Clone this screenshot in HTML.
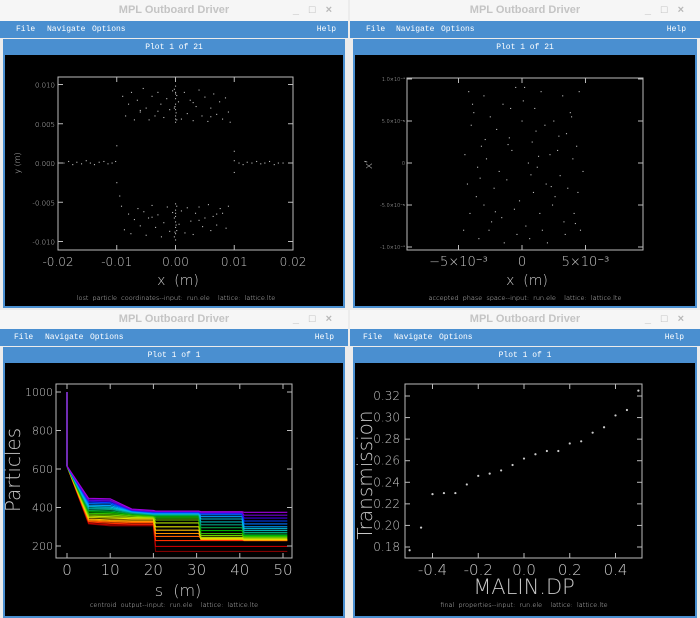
<!DOCTYPE html>
<html><head><meta charset="utf-8"><style>
html,body{margin:0;padding:0;width:700px;height:618px;overflow:hidden;background:#ececec;font-family:"Liberation Sans",sans-serif}
.win{position:absolute;background:#ececec}
.title{position:absolute;left:0;right:0;top:0;height:21px;background:#f6f6f6;color:#c4c4c4;font:bold 11px "Liberation Sans",sans-serif;text-align:center;line-height:21px}
.btns{position:absolute;right:6px;top:0;font-size:11px;color:#b8b8b8;letter-spacing:10px}
.menu{position:absolute;left:0;right:0;top:21px;height:17px;background:#4a8fd0;color:#fff;font:8px "Liberation Mono",monospace;line-height:17px}
.menu span{position:absolute}
.frame{position:absolute;left:3px;right:3px;top:39px;bottom:0;background:#4a8fd0}
.ph{position:absolute;left:0;right:0;top:2px;height:14px;color:#fff;font:8px "Liberation Mono",monospace;text-align:center;line-height:14px}
.blk{position:absolute;left:2px;right:2px;top:16px;bottom:2px;background:#000}
svg{position:absolute;left:0;top:0}
svg text{white-space:pre}
</style></head><body>
<div class="win" style="left:0;top:0;width:348px;height:308px">
 <div class="title">MPL Outboard Driver<span class="btns">_□×</span></div>
 <div class="menu"><span style="left:16px">File</span><span style="left:47px">Navigate</span><span style="left:92px">Options</span><span style="right:12px">Help</span></div>
 <div class="frame"><div class="ph">Plot 1 of 21</div><div class="blk"></div></div>
</div>
<div class="win" style="left:350px;top:0;width:350px;height:308px">
 <div class="title">MPL Outboard Driver<span class="btns">_□×</span></div>
 <div class="menu"><span style="left:16px">File</span><span style="left:46px">Navigate</span><span style="left:91px">Options</span><span style="right:14px">Help</span></div>
 <div class="frame"><div class="ph">Plot 1 of 21</div><div class="blk"></div></div>
</div>
<div class="win" style="left:0;top:310px;width:348px;height:308px">
 <div class="title" style="height:19px;line-height:19px">MPL Outboard Driver<span class="btns">_□×</span></div>
 <div class="menu" style="top:19px"><span style="left:14px">File</span><span style="left:45px">Navigate</span><span style="left:90px">Options</span><span style="right:14px">Help</span></div>
 <div class="frame" style="top:37px"><div class="ph">Plot 1 of 1</div><div class="blk"></div></div>
</div>
<div class="win" style="left:350px;top:310px;width:350px;height:308px">
 <div class="title" style="height:19px;line-height:19px">MPL Outboard Driver<span class="btns">_□×</span></div>
 <div class="menu" style="top:19px"><span style="left:13px">File</span><span style="left:44px">Navigate</span><span style="left:89px">Options</span><span style="right:16px">Help</span></div>
 <div class="frame" style="top:37px"><div class="ph">Plot 1 of 1</div><div class="blk"></div></div>
</div>
<svg id="s" width="700" height="618"></svg>
<script>
// ---- top-left: lost particle coordinates (mm)
const lostUpperX=[-9,-8.5,-8,-7.5,-7,-6.5,-6,-5.5,-5,-4.5,-4,-3.5,-3,-2.5,-2,-1.5,-1,-0.5,0,0,0,0,0,0,0,0.2,-0.2,0.2,-0.2,0.5,1,1.5,2,2.5,3,3.5,4,4.5,5,5.5,6,6.5,7,7.5,8,8.5,9,9.3,0,0,0.1,-0.1,-3,3,6,-6];
const lostUpperY=[8.5,6,7.5,9,5.5,8,6.5,9.5,7,5.5,8.5,6,9,7.5,5.8,8.2,6.8,9.2,5.2,6,6.8,7.5,8.2,9,9.8,5.5,7,8.6,9.4,7.8,5.6,9,6.3,8,5.4,7.2,9.3,6,8.4,5.3,7,8.8,6.2,7.8,5.6,8.3,6.5,5.2,5.6,8.8,6.4,7.2,6.6,7.7,5.9,6.7];
const lostLowerX=[-9.2,-8.7,-8,-7.6,-7,-6.4,-6,-5.4,-5,-4.6,-4,-3.4,-3,-2.4,-2,-1.4,-1,-0.5,0,0,0,0,0,0,0,0.2,-0.2,0.2,-0.2,0.6,1,1.6,2,2.6,3,3.4,4,4.6,5,5.6,6,6.4,7,7.6,8,8.6,9,-9.5,0,0.1,-0.1,-4,4,7];
const lostLowerY=[-5.5,-8.5,-6.5,-9,-7.2,-5.8,-8,-6.2,-9.2,-7,-5.4,-8.2,-6.6,-9.4,-7.6,-5.6,-8.7,-6.3,-5.2,-6,-6.8,-7.5,-8.2,-9,-9.8,-5.5,-7,-8.6,-9.4,-7.8,-6.1,-8.9,-5.7,-7.4,-9.1,-6.4,-5.6,-8.1,-7,-5.3,-8.6,-6.8,-7.9,-5.8,-6.4,-8.3,-5.5,-4.2,-6.4,-7.9,-8.8,-6.9,-7.3,-6.5];
const lostSideX=[-19,-18.2,-17.5,-16.8,-16,-15.2,-14.5,-13.8,-13,-12.2,-11.5,-10.8,-10.2,-10,-10,10,10.8,11.5,12.2,13,13.8,14.5,15.2,16,16.8,17.5,18.3,10,10];
const lostSideY=[0,0.2,-0.2,0.1,-0.1,0.3,0,-0.2,0.1,0.2,-0.1,0,0.2,2.2,-2.5,0.3,0,-0.2,0.1,0,0.2,-0.1,0,0.2,-0.2,0,0,-1.2,1.5];
// ---- top-right: accepted phase space (x in mm, x' in 1e-5)
const accX=[-4.2,-3.8,-3,-2.5,-1.5,-0.5,0.2,1,1.5,2.5,3.2,3.8,4.5,-4,-3.2,-2,-1,0,0.8,1.8,2.8,3.5,4.3,-4.5,-3.5,-2.8,-1.8,-0.8,0.5,1.2,2.2,3,4,4.8,-4.3,-3.6,-2.2,-1.2,-0.2,0.9,1.9,2.6,3.6,4.4,-4.1,-3,-2.4,-1.6,-0.6,0.3,1.4,2.4,3.3,4.1,-4.6,-3.4,-2.6,-1.4,-0.4,0.6,1.6,2,3.4,4.6,-3.9,-2.9,-0.9,1.1,2.9,3.9,-3.3,-1.1,0.1,1.3,2.3,4.2,-2.1,0.7];
const accX2=[8.5,6,8,5.5,7,9,9,6.5,8.5,5,8,6,8.5,4.5,2,4,3,5,2.5,4.5,1.5,3.5,2,1,-0.5,0.5,-1,1.5,0,-0.5,1,-1.5,0.5,-1,-2.5,-4,-3,-2,-4.5,-3.5,-2.5,-4,-3,-3.5,-6,-5,-7,-6.5,-5.5,-7.5,-6,-5,-7,-6,-8,-9,-8,-9.5,-8.5,-9,-8,-9.5,-8.5,-8,7,2.8,6.5,3.8,3.2,5.5,-1.8,2.2,7.4,0.8,-2.8,-7.2,-5.8,-1.4];
// ---- bottom-left: particles vs s, 21 series
const sPos=[0,0,5,10,15,20,20.5,30.5,31,40.5,41,51];
const series=[
[1000,615,315,305,305,305,172,172,172,172,172,172],
[1000,615,318,310,310,310,198,198,198,198,198,198],
[1000,615,325,318,315,315,228,228,228,228,228,228],
[1000,615,330,325,322,322,250,250,240,240,228,228],
[1000,615,335,330,328,328,265,265,235,235,230,230],
[1000,615,340,335,335,335,282,282,235,235,232,232],
[1000,615,348,345,342,342,300,300,240,240,235,235],
[1000,615,355,352,348,348,320,320,245,245,240,240],
[1000,615,362,360,355,350,335,335,255,255,245,245],
[1000,615,370,368,360,355,345,345,265,265,250,250],
[1000,615,378,375,365,358,352,352,280,280,255,255],
[1000,615,385,382,368,360,358,358,295,295,262,262],
[1000,615,392,390,372,362,362,362,310,310,270,270],
[1000,615,398,396,375,365,365,365,325,325,280,280],
[1000,615,405,402,378,368,368,368,340,340,290,290],
[1000,615,412,410,380,370,370,370,352,352,300,300],
[1000,615,420,418,382,372,372,372,362,362,315,315],
[1000,615,428,425,384,375,375,375,368,368,330,330],
[1000,615,435,432,386,378,378,378,372,372,345,345],
[1000,615,440,438,388,380,380,380,375,375,360,360],
[1000,615,448,445,392,385,382,382,378,378,375,375]];
const colors=["#800000","#c00000","#ff3000","#ff6000","#ff9000","#ffc000","#e0e000","#b0e000","#70d000","#30c000","#00b000","#00a040","#00a080","#00b0b0","#00c0e0","#00a0ff","#0070ff","#0040ff","#4000e0","#7000d0","#a000e0"];
const sTicks=[0,10,20,30,40,50];
const pTicks=[200,400,600,800,1000];
// ---- bottom-right: transmission vs MALIN.DP
const dp=[-0.5,-0.45,-0.4,-0.35,-0.3,-0.25,-0.2,-0.15,-0.1,-0.05,0,0.05,0.1,0.15,0.2,0.25,0.3,0.35,0.4,0.45,0.5];
const trans=[0.177,0.198,0.229,0.230,0.230,0.238,0.246,0.248,0.251,0.256,0.262,0.266,0.269,0.269,0.276,0.278,0.286,0.291,0.302,0.307,0.325];
const dpTicks=[-0.4,-0.2,0,0.2,0.4];
const trTicks=[0.18,0.20,0.22,0.24,0.26,0.28,0.30,0.32];

const S=document.getElementById('s');const NS='http://www.w3.org/2000/svg';
function mk(t,a,txt){const e=document.createElementNS(NS,t);for(const k in a)e.setAttribute(k,a[k]);if(txt!==undefined)e.textContent=txt;S.appendChild(e);return e;}
function frame(x0,y0,x1,y1,nm){const r=mk('rect',{x:x0,y:y0,width:x1-x0,height:y1-y0,fill:'none',stroke:'#bbb','stroke-width':1});

}
function txt(x,y,s,size,anchor,nm,extra){const t=mk('text',Object.assign({x:x,y:y,fill:'#c8c8c8','font-size':size,'text-anchor':anchor||'middle','font-family':'"DejaVu Sans","Liberation Sans",sans-serif','font-weight':'200'},extra||{}),s);

return t;}
function tick(x1,y1,x2,y2){mk('line',{x1:x1,y1:y1,x2:x2,y2:y2,stroke:'#bbb','stroke-width':1});}
function dot(x,y,nm){const d=mk('rect',{x:x-0.5,y:y-0.5,width:1.1,height:1.1,fill:'#bbb'});

}

// Top-left
{const X=v=>58+(v+20)/40*235, Y=v=>163-v/10*78.5;
frame(58,77,293,250,'plot-frame');
[-20,-10,0,10,20].forEach(v=>{tick(X(v),250,X(v),245);tick(X(v),77,X(v),82);txt(X(v),266,(v/1000).toFixed(2),12,'middle','x-tick-label');});
[-10,-5,0,5,10].forEach(v=>{tick(58,Y(v),63,Y(v));tick(293,Y(v),288,Y(v));txt(55,Y(v)+3,(v/1000).toFixed(3),7,'end','y-tick-label');});
[[lostUpperX,lostUpperY],[lostLowerX,lostLowerY],[lostSideX,lostSideY]].forEach(([a,b])=>a.forEach((v,i)=>dot(X(v),Y(b[i]),'lost-particle')));
txt(178,285,'x  (m)',14,'middle','x-axis-title');
txt(20,163,'y (m)',8,'middle','y-axis-title',{transform:'rotate(-90 20 163)'});
txt(176,300,'lost  particle  coordinates--input:  run.ele    lattice:  lattice.lte',6.5,'middle','footer-caption');}

// Top-right
{const X=v=>522+v/5*63.5, Y=v=>163-v/10*84;
frame(407,78,643,250,'plot-frame');
[-5,0,5].forEach(v=>{tick(X(v),250,X(v),245);tick(X(v),78,X(v),83);});
txt(X(-5),266,'−5×10⁻³',13,'middle','x-tick-label');txt(X(0),266,'0',13,'middle','x-tick-label');txt(X(5),266,'5×10⁻³',13,'middle','x-tick-label');
[[-10,'-1.0×10⁻⁴'],[-5,'-5.0×10⁻⁵'],[0,'0'],[5,'5.0×10⁻⁵'],[10,'1.0×10⁻⁴']].forEach(([v,l])=>{tick(407,Y(v),412,Y(v));tick(643,Y(v),638,Y(v));txt(405,Y(v)+2,l,5,'end','y-tick-label');});
accX.forEach((v,i)=>dot(X(v),Y(accX2[i]),'phase-point'));
txt(527,285,'x  (m)',14,'middle','x-axis-title');
txt(372,165,"x′",11,'middle','y-axis-title',{transform:'rotate(-90 372 165)'});
txt(525,300,'accepted  phase  space--input:  run.ele    lattice:  lattice.lte',6.5,'middle','footer-caption');}

// Bottom-left
{const X=s=>67+s/50*216, Y=p=>546-(p-200)/800*154;
series.forEach((ser,k)=>{const pts=ser.map((v,i)=>X(sPos[i]).toFixed(1)+','+Y(v).toFixed(1)).join(' ');
const l=mk('polyline',{points:pts,fill:'none',stroke:colors[k],'stroke-width':1.1});

});
frame(56,384,292,558,'plot-frame');
sTicks.forEach(v=>{tick(X(v),558,X(v),553);tick(X(v),384,X(v),389);txt(X(v),575,String(v),15,'middle','x-tick-label');});
pTicks.forEach(v=>{tick(56,Y(v),61,Y(v));tick(292,Y(v),287,Y(v));txt(53,Y(v)+4,String(v),11,'end','y-tick-label');});
txt(178,596,'s  (m)',16,'middle','x-axis-title');
txt(20,470,'Particles',20,'middle','y-axis-title',{transform:'rotate(-90 20 470)'});
txt(174,607,'centroid  output--input:  run.ele    lattice:  lattice.lte',6.5,'middle','footer-caption');}

// Bottom-right
{const X=d=>524+d/0.4*91.5, Y=t=>396+(0.32-t)/0.14*151;
frame(405,384,642,558,'plot-frame');
dpTicks.forEach(v=>{tick(X(v),558,X(v),553);tick(X(v),384,X(v),389);txt(X(v),575,v.toFixed(1),15,'middle','x-tick-label');});
trTicks.forEach(v=>{tick(405,Y(v),410,Y(v));tick(642,Y(v),637,Y(v));txt(400,Y(v)+4,v.toFixed(2),12,'end','y-tick-label');});
dp.forEach((d,i)=>{const c=mk('circle',{cx:X(d),cy:Y(trans[i]),r:1.1,fill:'#ccc'});

});
txt(524,594,'MALIN.DP',21,'middle','x-axis-title');
txt(372,475,'Transmission',20,'middle','y-axis-title',{transform:'rotate(-90 372 475)'});
txt(524,607,'final  properties--input:  run.ele    lattice:  lattice.lte',6.5,'middle','footer-caption');}
</script>
</body></html>
